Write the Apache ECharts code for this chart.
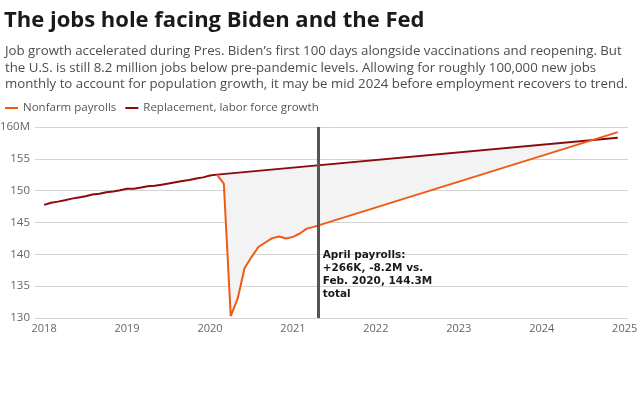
<!DOCTYPE html>
<html>
<head>
<meta charset="utf-8">
<script src="https://cdn.jsdelivr.net/npm/echarts@6/dist/echarts.min.js"></script>
<style>
html,body{margin:0;padding:0;background:#fff;}
#c{width:640px;height:400px;}
</style>
</head>
<body>
<div id="c"></div>
<script>
// ---- data ----
const months = [
  '2018-01','2018-02','2018-03','2018-04','2018-05','2018-06','2018-07','2018-08','2018-09','2018-10','2018-11','2018-12',
  '2019-01','2019-02','2019-03','2019-04','2019-05','2019-06','2019-07','2019-08','2019-09','2019-10','2019-11','2019-12',
  '2020-01','2020-02','2020-03','2020-04','2020-05','2020-06','2020-07','2020-08','2020-09','2020-10','2020-11','2020-12',
  '2021-01','2021-02','2021-03','2021-04'
];
const payrolls = [
  147.77,148.10,148.28,148.48,148.75,148.94,149.12,149.41,149.52,149.75,149.88,150.06,
  150.29,150.29,150.49,150.70,150.76,150.94,151.11,151.31,151.51,151.69,151.90,152.09,
  152.37,152.52,151.09,130.30,133.03,137.81,139.57,141.15,141.86,142.55,142.81,142.50,
  142.74,143.27,144.04,144.31
];
const projectionMonth = '2024-12';
const payrollProjectionEnd = 159.2;
const replacementStartMonth = '2020-02';
const replacementEnd = 158.3;
const annotationMonthValue = 2021.31;
const annotationText = 'April payrolls:\n+266K, -8.2M vs.\nFeb. 2020, 144.3M\ntotal';
const xTicks = [2018,2019,2020,2021,2022,2023,2024,2025];
const yMin = 130, yMax = 160, yStep = 5;

const titleText = 'The jobs hole facing Biden and the Fed';
const subtitleLines = [
  "Job growth accelerated during Pres. Biden\u2019s first 100 days alongside vaccinations and reopening. But",
  "the U.S. is still 8.2 million jobs below pre-pandemic levels. Allowing for roughly 100,000 new jobs",
  "monthly to account for population growth, it may be mid 2024 before employment recovers to trend."
];

// ---- helpers ----
function toYear(m){ const p = m.split('-'); return +p[0] + (+p[1]-1)/12; }

const startIdx = months.indexOf(replacementStartMonth);
const payrollSeries = months.slice(startIdx).map((m,i)=>[toYear(m), payrolls[startIdx+i]]);
payrollSeries.push([toYear(projectionMonth), payrollProjectionEnd]);
const replacementSeries = months.slice(0, startIdx+1).map((m,i)=>[toYear(m), payrolls[i]]);
replacementSeries.push([toYear(projectionMonth), replacementEnd]);

function segIntersect(p1,p2,p3,p4){
  const d = (p2[0]-p1[0])*(p4[1]-p3[1]) - (p2[1]-p1[1])*(p4[0]-p3[0]);
  if (Math.abs(d) < 1e-9) return null;
  const t = ((p3[0]-p1[0])*(p4[1]-p3[1]) - (p3[1]-p1[1])*(p4[0]-p3[0]))/d;
  return [p1[0]+t*(p2[0]-p1[0]), p1[1]+t*(p2[1]-p1[1])];
}

const chart = echarts.init(document.getElementById('c'), null, {renderer:'canvas'});
const FONT = '"Open Sans", "Noto Sans", sans-serif';

const option = {
  animation: false,
  backgroundColor: '#fff',
  title: [
    { text: titleText, left: -1, top: 5,
      textStyle: { fontFamily: FONT, fontWeight: 'bold', fontSize: 22, color: '#1a1a1a' } },
    { text: subtitleLines.join('\n'), left: 0, top: 38,
      textStyle: { fontFamily: FONT, fontWeight: 'normal', fontSize: 13.25, lineHeight: 16.5, color: '#4d4d4d' } }
  ],
  legend: {
    left: 0, top: 97, itemWidth: 13, itemHeight: 2, itemGap: 9,
    icon: 'rect',
    textStyle: { fontFamily: FONT, fontSize: 11.5, color: '#555' },
    data: ['Nonfarm payrolls','Replacement, labor force growth']
  },
  grid: { left: 35, right: 12, top: 127, bottom: 82, outerBoundsMode: 'none', containLabel: false },
  xAxis: {
    type: 'value', min: 2017.89, max: 2025.04,
    axisLine: { show: false }, axisTick: { show: false },
    splitLine: { show: false },
    axisLabel: { customValues: xTicks, color: '#666', fontFamily: FONT, fontSize: 11, margin: 5,
                 formatter: v => String(Math.round(v)) }
  },
  yAxis: {
    type: 'value', min: yMin, max: yMax, interval: yStep,
    axisLine: { show: false }, axisTick: { show: false },
    splitLine: { lineStyle: { color: '#d3d3d3', width: 1 } },
    axisLabel: { color: '#666', fontFamily: FONT, fontSize: 11.5, margin: 5,
                 formatter: v => v === yMax ? v + 'M' : String(v) }
  },
  series: [
    {
      type: 'custom', name: 'gap', silent: true, z: 1,
      data: [0],
      renderItem: function(params, api){
        const rs = replacementSeries[startIdx], re = replacementSeries[replacementSeries.length-1];
        const n = payrollSeries.length;
        const pa = payrollSeries[n-2], pb = payrollSeries[n-1];
        const X = segIntersect(rs, re, pa, pb);
        const pts = [api.coord(rs), api.coord(X)];
        for (let i = n-2; i >= 0; i--) pts.push(api.coord(payrollSeries[i]));
        return { type: 'polygon', shape: { points: pts }, style: { fill: '#f3f3f3' } };
      }
    },
    {
      type: 'line', name: 'Replacement, labor force growth', data: replacementSeries,
      showSymbol: false, z: 3, color: '#8b0a0a',
      lineStyle: { color: '#8b0a0a', width: 2 },
      markLine: {
        silent: true, symbol: 'none', label: { show: false },
        lineStyle: { color: '#555', width: 3, type: 'solid' },
        data: [{ xAxis: annotationMonthValue }]
      }
    },
    {
      type: 'line', name: 'Nonfarm payrolls', data: payrollSeries,
      showSymbol: false, z: 4, color: '#f05a14',
      lineStyle: { color: '#f05a14', width: 2 }
    }
  ]
};
chart.setOption(option);

const p = chart.convertToPixel({xAxisIndex:0, yAxisIndex:0}, [annotationMonthValue, 140.85]);
chart.setOption({
  graphic: [{
    type: 'text', left: p[0] + 4, top: p[1],
    style: { text: annotationText, fontFamily: '"DejaVu Sans", Verdana, sans-serif', fontWeight: 'bold', fontSize: 10.5, lineHeight: 13, fill: '#1a1a1a' }
  }]
});
</script>
</body>
</html>
